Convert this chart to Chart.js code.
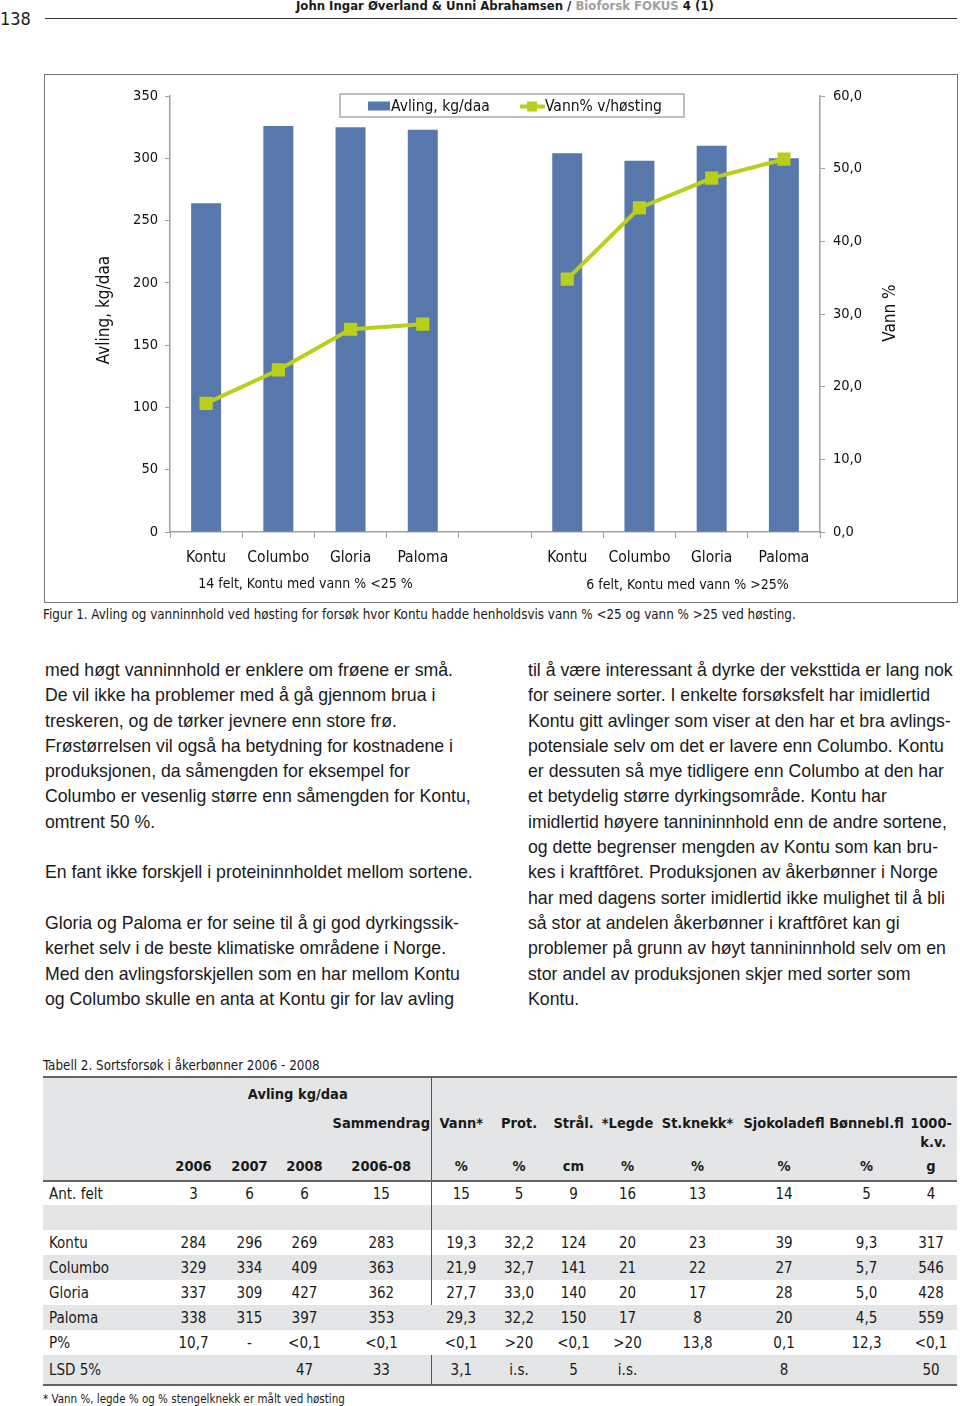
<!DOCTYPE html>
<html lang="no">
<head>
<meta charset="utf-8">
<title>Figur 1 - Avling og vanninnhold ved høsting</title>
<script src="https://cdn.jsdelivr.net/npm/chart.js@4.4.1/dist/chart.umd.min.js"></script>
<style>
    body { margin: 0; width: 960px; height: 1406px; position: relative; background: #fff; color: #1a1a1a; overflow: hidden; }
    .cond { font-family: 'DejaVu Sans Condensed', 'DejaVu Sans', sans-serif; }
    .abs { position: absolute; }
    #pageNo { left: 0; top: 8px; font-size: 18px; }
    #rule { left: 45px; top: 18px; width: 912px; height: 0; border-top: 1px solid #333; }
    #running { left: 296px; top: -2px; font-size: 13px; font-weight: bold; white-space: nowrap; }
    #running .grey { color: #a0a0a0; }
    #chartBox { left: 45px; top: 75px; width: 912px; height: 527px; }
    #chartFrame { left: 44px; top: 74px; width: 912px; height: 527px; border: 1.5px solid #777; }
    #figCaption { left: 43px; top: 607px; font-size: 13.3px; white-space: nowrap; }
    .col { font-family: 'Liberation Sans', Arial, sans-serif; font-size: 17.7px; line-height: 25.3px; white-space: nowrap; top: 658px; }
    #colLeft { left: 45px; }
    #colRight { left: 528px; }
    #tabCaption { left: 43px; top: 1058px; font-size: 13.3px; white-space: nowrap; }
    #tab { left: 43px; top: 1076px; width: 914px; border-collapse: collapse; table-layout: fixed; font-size: 15px; }
    #tab td { padding: 0; text-align: center; white-space: nowrap; }
    #tab td.lbl { text-align: left; padding-left: 6px; }
    #tab thead td { background: #e4e5e7; font-weight: bold; font-size: 14.5px; }
    #tab thead tr:first-child td { border-top: 2px solid #666; }
    #tab thead tr:last-child td { border-bottom: 2px solid #666; }
    #tab tbody tr:last-child td { border-bottom: 2px solid #666; }
    #tab .vl { border-left: 1.5px solid #555; }
    #tab tr.g td { background: #e4e5e7; }
    #tab tbody tr { height: 25px; }
    #footnote { left: 43px; top: 1392px; font-size: 11.5px; white-space: nowrap; }
</style>
</head>
<body>
<div id="pageNo" class="abs cond">138</div>
<div id="rule" class="abs"></div>
<div id="running" class="abs cond">John Ingar Øverland &amp; Unni Abrahamsen / <span class="grey">Bioforsk FOKUS</span> 4 (1)</div>

<div id="chartFrame" class="abs"></div>
<div id="chartBox" class="abs"><canvas id="avlingChart"></canvas></div>

<div id="figCaption" class="abs cond">Figur 1. Avling og vanninnhold ved høsting for forsøk hvor Kontu hadde henholdsvis vann % &lt;25 og vann % &gt;25 ved høsting.</div>

<div id="colLeft" class="abs col">med høgt vanninnhold er enklere om frøene er små.<br>De vil ikke ha problemer med å gå gjennom brua i<br>treskeren, og de tørker jevnere enn store frø.<br>Frøstørrelsen vil også ha betydning for kostnadene i<br>produksjonen, da såmengden for eksempel for<br>Columbo er vesenlig større enn såmengden for Kontu,<br>omtrent 50 %.<br><br>En fant ikke forskjell i proteininnholdet mellom sortene.<br><br>Gloria og Paloma er for seine til å gi god dyrkingssik-<br>kerhet selv i de beste klimatiske områdene i Norge.<br>Med den avlingsforskjellen som en har mellom Kontu<br>og Columbo skulle en anta at Kontu gir for lav avling</div>

<div id="colRight" class="abs col">til å være interessant å dyrke der veksttida er lang nok<br>for seinere sorter. I enkelte forsøksfelt har imidlertid<br>Kontu gitt avlinger som viser at den har et bra avlings-<br>potensiale selv om det er lavere enn Columbo. Kontu<br>er dessuten så mye tidligere enn Columbo at den har<br>et betydelig større dyrkingsområde. Kontu har<br>imidlertid høyere tannininnhold enn de andre sortene,<br>og dette begrenser mengden av Kontu som kan bru-<br>kes i kraftfôret. Produksjonen av åkerbønner i Norge<br>har med dagens sorter imidlertid ikke mulighet til å bli<br>så stor at andelen åkerbønner i kraftfôret kan gi<br>problemer på grunn av høyt tannininnhold selv om en<br>stor andel av produksjonen skjer med sorter som<br>Kontu.</div>

<div id="tabCaption" class="abs cond">Tabell 2. Sortsforsøk i åkerbønner 2006 - 2008</div>

<table id="tab" class="abs cond">
    <colgroup>
        <col style="width:122px"><col style="width:57px"><col style="width:55px"><col style="width:55px"><col style="width:99px">
        <col style="width:60px"><col style="width:56px"><col style="width:53px"><col style="width:55px"><col style="width:85px">
        <col style="width:88px"><col style="width:77px"><col style="width:52px">
    </colgroup>
    <thead>
        <tr style="height:32px"><td></td><td colspan="4">Avling kg/daa</td><td class="vl"></td><td></td><td></td><td></td><td></td><td></td><td></td><td></td></tr>
        <tr style="height:43px;vertical-align:top;line-height:19px">
            <td></td><td></td><td></td><td></td><td style="padding-top:5px">Sammendrag</td><td class="vl" style="padding-top:5px">Vann*</td>
            <td style="padding-top:5px">Prot.</td><td style="padding-top:5px">Strål.</td><td style="padding-top:5px">*Legde</td><td style="padding-top:5px">St.knekk*</td>
            <td style="padding-top:5px">Sjokoladefl</td><td style="padding-top:5px">Bønnebl.fl</td><td style="padding-top:5px">1000-<br>&nbsp;k.v.</td>
        </tr>
        <tr style="height:29px"><td></td><td>2006</td><td>2007</td><td>2008</td><td>2006-08</td><td class="vl">%</td><td>%</td><td>cm</td><td>%</td><td>%</td><td>%</td><td>%</td><td>g</td></tr>
    </thead>
    <tbody>
        <tr style="height:24px"><td class="lbl">Ant. felt</td><td>3</td><td>6</td><td>6</td><td>15</td><td class="vl">15</td><td>5</td><td>9</td><td>16</td><td>13</td><td>14</td><td>5</td><td>4</td></tr>
        <tr class="g"><td></td><td></td><td></td><td></td><td></td><td class="vl"></td><td></td><td></td><td></td><td></td><td></td><td></td><td></td></tr>
        <tr><td class="lbl">Kontu</td><td>284</td><td>296</td><td>269</td><td>283</td><td class="vl">19,3</td><td>32,2</td><td>124</td><td>20</td><td>23</td><td>39</td><td>9,3</td><td>317</td></tr>
        <tr class="g"><td class="lbl">Columbo</td><td>329</td><td>334</td><td>409</td><td>363</td><td class="vl">21,9</td><td>32,7</td><td>141</td><td>21</td><td>22</td><td>27</td><td>5,7</td><td>546</td></tr>
        <tr><td class="lbl">Gloria</td><td>337</td><td>309</td><td>427</td><td>362</td><td class="vl">27,7</td><td>33,0</td><td>140</td><td>20</td><td>17</td><td>28</td><td>5,0</td><td>428</td></tr>
        <tr class="g"><td class="lbl">Paloma</td><td>338</td><td>315</td><td>397</td><td>353</td><td>29,3</td><td>32,2</td><td>150</td><td>17</td><td>8</td><td>20</td><td>4,5</td><td>559</td></tr>
        <tr><td class="lbl">P%</td><td>10,7</td><td>-</td><td>&lt;0,1</td><td>&lt;0,1</td><td>&lt;0,1</td><td>&gt;20</td><td>&lt;0,1</td><td>&gt;20</td><td>13,8</td><td>0,1</td><td>12,3</td><td>&lt;0,1</td></tr>
        <tr class="g" style="height:30px"><td class="lbl">LSD 5%</td><td></td><td></td><td>47</td><td>33</td><td class="vl">3,1</td><td>i.s.</td><td>5</td><td>i.s.</td><td></td><td>8</td><td></td><td>50</td></tr>
    </tbody>
</table>

<div id="footnote" class="abs cond">* Vann %, legde % og % stengelknekk er målt ved høsting</div>

<script>
// Data lest av figuren (to grupper, tom kategori i midten)
const sorter = ['Kontu', 'Columbo', 'Gloria', 'Paloma', '', 'Kontu', 'Columbo', 'Gloria', 'Paloma'];
const avling = [264, 326, 325, 323, null, 304, 298, 310, 300];
const vannProsent = [17.7, 22.3, 27.9, 28.6, null, 34.8, 44.6, 48.7, 51.3];
const grupper = ['14 felt, Kontu med vann % <25 %', '6 felt, Kontu med vann % >25%'];
const avlingMax = 350, avlingStep = 50;
const vannMax = 60, vannStep = 10;

const FONT = "'DejaVu Sans Condensed', 'DejaVu Sans', sans-serif";
const BLUE = '#5877ab';
const LIME = '#b9cf1c';
const AXIS = '#a0a0a0';

Chart.defaults.font.family = FONT;
Chart.defaults.color = '#111';

// Gruppetekster, aksetitler og legende med ramme
const decorPlugin = {
    id: 'decor',
    afterDraw(chart) {
        const { ctx, scales: { x } } = chart;
        ctx.save();
        ctx.fillStyle = '#111';
        ctx.textBaseline = 'middle';

        // gruppetekster under kategoriene
        ctx.font = '14px ' + FONT;
        ctx.textAlign = 'center';
        ctx.fillText(grupper[0], (x.getPixelForValue(0) + x.getPixelForValue(3)) / 2 - 9, 509);
        ctx.fillText(grupper[1], (x.getPixelForValue(5) + x.getPixelForValue(8)) / 2 + 12, 510);

        // aksetitler
        ctx.font = '17px ' + FONT;
        ctx.save();
        ctx.translate(60, 235);
        ctx.rotate(-Math.PI / 2);
        ctx.fillText('Avling, kg/daa', 0, 0);
        ctx.restore();
        ctx.save();
        ctx.translate(846, 238);
        ctx.rotate(-Math.PI / 2);
        ctx.fillText('Vann %', 0, 0);
        ctx.restore();

        // legende
        const lx = 295, ly = 19, lw = 344, lh = 23;
        ctx.fillStyle = '#fff';
        ctx.fillRect(lx, ly, lw, lh);
        ctx.strokeStyle = '#aaa';
        ctx.lineWidth = 1.5;
        ctx.strokeRect(lx, ly, lw, lh);
        const cy = ly + lh / 2 + 1;
        ctx.fillStyle = BLUE;
        ctx.fillRect(323, cy - 5, 22, 9);
        ctx.strokeStyle = LIME;
        ctx.lineWidth = 4;
        ctx.beginPath();
        ctx.moveTo(475, cy);
        ctx.lineTo(500, cy);
        ctx.stroke();
        ctx.fillStyle = LIME;
        ctx.fillRect(482, cy - 5, 10, 10);
        ctx.fillStyle = '#111';
        ctx.textAlign = 'left';
        ctx.font = '15.5px ' + FONT;
        ctx.fillText(chart.data.datasets[1].label, 346, cy);
        ctx.fillText(chart.data.datasets[0].label, 500, cy);
        ctx.restore();
    }
};

new Chart(document.getElementById('avlingChart').getContext('2d'), {
    type: 'bar',
    data: {
        labels: sorter,
        datasets: [
            {
                type: 'line',
                label: 'Vann% v/høsting',
                data: vannProsent,
                yAxisID: 'y1',
                borderColor: LIME,
                backgroundColor: LIME,
                borderWidth: 4,
                pointStyle: 'rect',
                pointRadius: 6.5,
                pointHoverRadius: 6.5,
                spanGaps: false,
                tension: 0,
                order: 0,
            },
            {
                label: 'Avling, kg/daa',
                data: avling,
                yAxisID: 'y',
                backgroundColor: BLUE,
                barPercentage: 0.415,
                categoryPercentage: 1,
                order: 1,
            },
        ],
    },
    options: {
        responsive: true,
        maintainAspectRatio: false,
        animation: false,
        layout: { padding: { top: 21, left: 0, right: 0, bottom: 0 } },
        plugins: {
            legend: { display: false },
            tooltip: { enabled: false },
        },
        scales: {
            x: {
                afterFit: s => { s.height = 70; },
                grid: { drawOnChartArea: false, color: AXIS, tickLength: 6, offset: true },
                border: { color: AXIS, width: 1.5 },
                ticks: { font: { size: 15.5 }, padding: 11, maxRotation: 0, autoSkip: false },
            },
            y: {
                position: 'left',
                min: 0,
                max: avlingMax,
                afterFit: s => { s.width = 125; },
                grid: { drawOnChartArea: false, color: AXIS, tickLength: 5 },
                border: { color: AXIS, width: 1.5 },
                ticks: { stepSize: avlingStep, font: { size: 14.5 }, padding: 7 },
            },
            y1: {
                position: 'right',
                min: 0,
                max: vannMax,
                afterFit: s => { s.width = 137; },
                grid: { drawOnChartArea: false, color: AXIS, tickLength: 5 },
                border: { color: AXIS, width: 1.5 },
                ticks: {
                    stepSize: vannStep,
                    font: { size: 14.5 },
                    padding: 8,
                    callback: v => v.toFixed(1).replace('.', ','),
                },
            },
        },
    },
    plugins: [decorPlugin],
});
</script>
</body>
</html>
